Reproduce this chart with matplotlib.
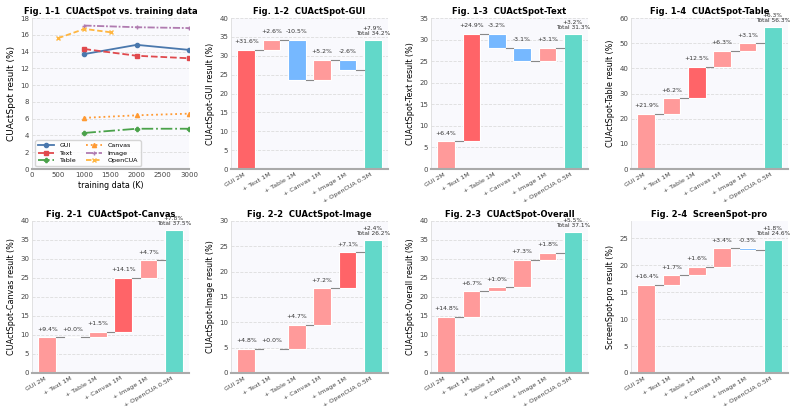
import matplotlib.pyplot as plt
import numpy as np

# Fig 1-1 line data
line_names = ['GUI', 'Text', 'Table', 'Canvas', 'Image', 'OpenCUA']
line_x = {
    'GUI': [1000, 2000, 3000],
    'Text': [1000, 2000, 3000],
    'Table': [1000, 2000, 3000],
    'Canvas': [1000, 2000, 3000],
    'Image': [1000, 2000, 3000],
    'OpenCUA': [500, 1000, 1500],
}
gui_vals = [13.7, 14.8, 14.2]
text_vals = [14.3, 13.5, 13.2]
table_vals = [4.3, 4.8, 4.8]
canvas_vals = [6.1, 6.4, 6.6]
image_vals = [17.1, 16.9, 16.8]
opencua_vals = [15.6, 16.7, 16.3]
line_vals = [gui_vals, text_vals, table_vals, canvas_vals, image_vals, opencua_vals]

# waterfall data
steps = ['GUI 2M', '+ Text 1M', '+ Table 1M', '+ Canvas 1M', '+ Image 1M', '+ OpenCUA 0.5M']
gui_delta = [31.6, 2.6, -10.5, 5.2, -2.6, 7.9]
text_delta = [6.4, 24.9, -3.2, -3.1, 3.1, 3.2]
table_delta = [21.9, 6.2, 12.5, 6.3, 3.1, 6.3]
canvas_delta = [9.4, 0.0, 1.5, 14.1, 4.7, 7.8]
image_delta = [4.8, 0.0, 4.7, 7.2, 7.1, 2.4]
overall_delta = [14.8, 6.7, 1.0, 7.3, 1.8, 5.5]
sspro_delta = [16.4, 1.7, 1.6, 3.4, -0.3, 1.8]

panels = [
    ('Fig. 1-2  CUActSpot-GUI', 'CUActSpot-GUI result (%)', gui_delta, 0, 40),
    ('Fig. 1-3  CUActSpot-Text', 'CUActSpot-Text result (%)', text_delta, 1, 35),
    ('Fig. 1-4  CUActSpot-Table', 'CUActSpot-Table result (%)', table_delta, 2, 60),
    ('Fig. 2-1  CUActSpot-Canvas', 'CUActSpot-Canvas result (%)', canvas_delta, 3, 40),
    ('Fig. 2-2  CUActSpot-Image', 'CUActSpot-Image result (%)', image_delta, 4, 30),
    ('Fig. 2-3  CUActSpot-Overall', 'CUActSpot-Overall result (%)', overall_delta, None, 40),
    ('Fig. 2-4  ScreenSpot-pro', 'ScreenSpot-pro result (%)', sspro_delta, None, 28.2),
]

POS = '#ff9a9a'
HI = '#ff6468'
NEG = '#76b8ff'
TOT = '#62d8c9'
BG = '#f9f9fd'

TITLE_FS = 6.0
LABEL_FS = 5.8
TICK_FS = 5.0
XT_FS = 4.6
ANN_FS = 4.4

plt.rcParams['font.family'] = 'DejaVu Sans'
fig = plt.figure(figsize=(7.95, 4.12), dpi=100)

lefts = [0.0403, 0.2906, 0.5421, 0.7937]
w = 0.1975
rows = [(0.5898, 0.3665), (0.0947, 0.369)]


def style_ax(ax):
    ax.set_facecolor(BG)
    ax.grid(axis='y', color='#dddddd', linestyle='--', linewidth=0.6)
    ax.set_axisbelow(True)
    for s in ['top', 'right']:
        ax.spines[s].set_visible(False)
    ax.spines['left'].set_color('#dddddd')
    ax.spines['left'].set_linewidth(0.6)
    ax.spines['bottom'].set_color('#aaaaaa')
    ax.spines['bottom'].set_linewidth(1.5)
    ax.tick_params(labelsize=TICK_FS, length=0, colors='#444444', pad=2)


# line chart
ax = fig.add_axes([lefts[0], rows[0][0], w, rows[0][1]])
style_ax(ax)
colors = ['#4a78ad', '#e0494d', '#4ba24b', '#ff9a33', '#b07bb0', '#ffb640']
styles = ['-', '--', '-.', ':', (0, (4, 1, 1, 1)), (0, (3, 1.5))]
markers = ['o', 's', 'P', '^', '+', 'x']
for name, vals, c, ls, m in zip(line_names, line_vals, colors, styles, markers):
    ax.plot(line_x[name], vals, color=c, linestyle=ls, marker=m, markersize=3,
            linewidth=1.3, label=name)
ax.set_xlim(0, 3000)
ax.set_ylim(0, 18)
ax.set_xticks(np.arange(0, 3001, 500))
ax.set_yticks(np.arange(0, 19, 2))
ax.set_xlabel('training data (K)', fontsize=LABEL_FS, labelpad=2)
ax.set_ylabel('CUActSpot result (%)', fontsize=6.5, labelpad=3)
ax.set_title('Fig. 1-1  CUActSpot vs. training data', fontsize=TITLE_FS, fontweight='bold', pad=3)
ax.legend(ncol=2, fontsize=4.6, loc='lower left', frameon=True, handlelength=2.6,
          columnspacing=1.5, labelspacing=0.3, borderpad=0.4)

# waterfalls
slots = [(0, 1), (0, 2), (0, 3), (1, 0), (1, 1), (1, 2), (1, 3)]
for (title, ylabel, delta, hi, ytop), (r, c) in zip(panels, slots):
    ax = fig.add_axes([lefts[c], rows[r][0], w, rows[r][1]])
    style_ax(ax)
    x = np.arange(len(steps))
    cum = np.cumsum(delta)
    starts = np.concatenate([[0], cum[:-1]])
    bw = 0.7
    for i in range(len(steps) - 1):
        d = delta[i]
        if d >= 0:
            col = HI if i == hi else POS
        else:
            col = NEG
        ax.bar(x[i], d, bottom=starts[i], width=bw, color=col, edgecolor='white', linewidth=0.8)
        top = max(starts[i], cum[i])
        ax.annotate(f'{d:+.1f}%', (x[i], top), xytext=(0, 4), textcoords='offset points',
                    ha='center', va='bottom', fontsize=ANN_FS, color='#333333')
        ax.plot([x[i] + bw / 2, x[i + 1] - bw / 2], [cum[i], cum[i]], color='#888888', lw=0.8)
    last = len(steps) - 1
    ax.bar(x[last], cum[last], width=bw, color=TOT, edgecolor='white', linewidth=0.8)
    ax.annotate(f'{delta[last]:+.1f}%\nTotal {cum[last]:.1f}%', (x[last], cum[last]),
                xytext=(0, 3), textcoords='offset points', ha='center', va='bottom',
                fontsize=4.2, color='#333333', linespacing=1.0)
    ax.set_xlim(-0.6, 5.6)
    ax.set_ylim(0, ytop)
    ax.set_xticks(x)
    ax.set_xticklabels(steps, rotation=30, ha='right', fontsize=XT_FS)
    ax.set_ylabel(ylabel, fontsize=LABEL_FS, labelpad=3)
    ax.set_title(title, fontsize=TITLE_FS, fontweight='bold', pad=3)

fig.savefig('out.png', dpi=100)
